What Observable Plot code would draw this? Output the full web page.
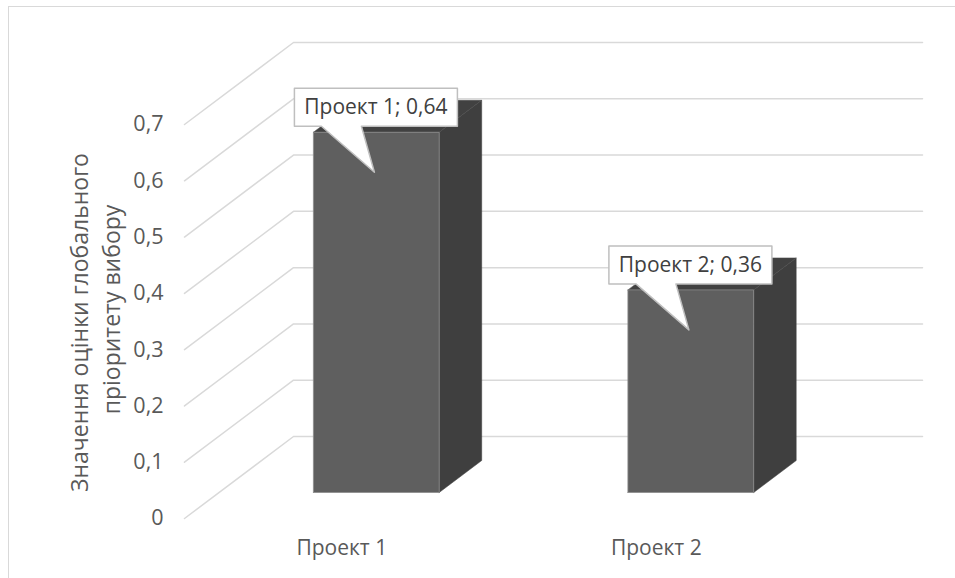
<!DOCTYPE html>
<html><head><meta charset="utf-8">
<script src="https://cdn.jsdelivr.net/npm/d3@7"></script>
<script src="https://cdn.jsdelivr.net/npm/@observablehq/plot@0.6"></script>
<style>
body{margin:0;background:#fff;}
#frame{position:absolute;left:8px;top:6px;width:980px;height:600px;border-left:1.5px solid #d9d9d9;border-top:1.5px solid #d9d9d9;}
#chart{position:absolute;left:0;top:0;}
</style></head><body><div id="frame"></div><div id="chart"></div>
<script>
const categories = ["Проект 1", "Проект 2"];
const values = [0.64, 0.36];
const dataLabels = ["Проект 1; 0,64", "Проект 2; 0,36"];
const yTicks = [0, 0.1, 0.2, 0.3, 0.4, 0.5, 0.6, 0.7];
const yTickLabels = ["0", "0,1", "0,2", "0,3", "0,4", "0,5", "0,6", "0,7"];
const axisTitle = ["Значення оцінки глобального", "пріоритету вибору"];

// layout
const W = 955, H = 578, mL = 184, mR = 142, mT = 124, mB = 60;
const xDom = [0.5, 2.5], yDom = [0, 0.7];
const pxU = (W - mL - mR) / (xDom[1] - xDom[0]);
const pxV = (H - mT - mB) / (yDom[1] - yDom[0]);
const U = px => px / pxU, V = px => px / pxV;
const wallDu = U(109), wallDv = V(82);
const barW = 0.4, barD0 = 0.317, barD1 = 0.707;
const ox = barD0 * wallDu, oy = barD0 * wallDv, bx = barD1 * wallDu, by = barD1 * wallDv;

const grid = yTicks.flatMap((t, i) => [
  {g: i, x: xDom[0], y: t},
  {g: i, x: xDom[0] + wallDu, y: t + wallDv},
  {g: i, x: xDom[1] + wallDu, y: t + wallDv}
]);

const frontFaces = [], sideFaces = [], topFaces = [], callouts = [], labelPos = [];
categories.forEach((c, i) => {
  const cx = i + 1, v = values[i];
  const l = cx - barW / 2 + ox, r = cx + barW / 2 + ox;
  const lb = cx - barW / 2 + bx, rb = cx + barW / 2 + bx;
  [[l, oy], [r, oy], [r, v + oy], [l, v + oy], [l, oy]].forEach(([x, y]) => frontFaces.push({g: i, x, y}));
  [[r, oy], [rb, by], [rb, v + by], [r, v + oy], [r, oy]].forEach(([x, y]) => sideFaces.push({g: i, x, y}));
  [[l, v + oy], [r, v + oy], [rb, v + by], [lb, v + by], [l, v + oy]].forEach(([x, y]) => topFaces.push({g: i, x, y}));
  const px = [[-19, -44], [144, -44], [144, -6], [48, -6], [61, 40], [8, -6], [-19, -6], [-19, -44]];
  px.forEach(([dx, dy]) => callouts.push({g: i, x: l + U(dx), y: v + oy - V(dy)}));
  labelPos.push({text: dataLabels[i], x: l + U(62.5), y: v + oy + V(25)});
});

const chart = Plot.plot({
  width: W, height: H,
  marginLeft: mL, marginRight: mR, marginTop: mT, marginBottom: mB,
  x: {domain: xDom, axis: null},
  y: {domain: yDom, ticks: yTicks, tickFormat: d => yTickLabels[yTicks.indexOf(d)], tickSize: 0, tickPadding: 21, label: null},
  style: {fontFamily: "'Open Sans', sans-serif", fontSize: "21.5px", color: "#595959", background: "transparent", overflow: "visible"},
  marks: [
    Plot.line(grid, {x: "x", y: "y", z: "g", stroke: "#d9d9d9", strokeWidth: 1.5}),
    Plot.line(sideFaces, {x: "x", y: "y", z: "g", fill: "#3f3f3f", stroke: "#3f3f3f", strokeWidth: 0.5}),
    Plot.line(topFaces, {x: "x", y: "y", z: "g", fill: "#414141", stroke: "#4a4a4a", strokeWidth: 0.5}),
    Plot.line(frontFaces, {x: "x", y: "y", z: "g", fill: "#5f5f5f", stroke: "#8c8c8c", strokeWidth: 0.8}),
    Plot.line(callouts, {x: "x", y: "y", z: "g", fill: "white", stroke: "#bfbfbf", strokeWidth: 1.5}),
    Plot.text(labelPos, {x: "x", y: "y", text: "text", fill: "#404040", fontSize: 21, textAnchor: "middle", lineAnchor: "middle"}),
    Plot.text(categories, {x: (d, i) => i + 1, y: () => 0, text: d => d, dy: 30, fill: "#595959", fontSize: 21, lineAnchor: "middle"}),
    Plot.text([axisTitle[0]], {frameAnchor: "left", text: d => d, rotate: -90, dx: -104, dy: 1, fontSize: 23, fill: "#595959", lineAnchor: "middle", textAnchor: "middle"}),
    Plot.text([axisTitle[1]], {frameAnchor: "left", text: d => d, rotate: -90, dx: -72, dy: -12, fontSize: 23, fill: "#595959", lineAnchor: "middle", textAnchor: "middle"})
  ]
});
document.getElementById("chart").appendChild(chart);
</script></body></html>
